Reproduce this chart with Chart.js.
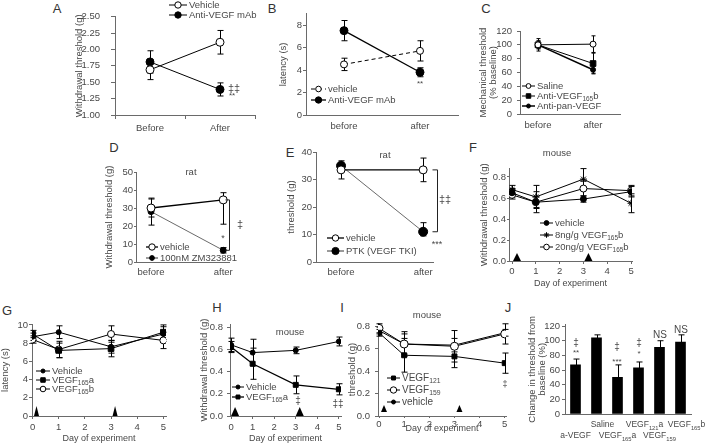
<!DOCTYPE html>
<html>
<head>
<meta charset="utf-8">
<script src="https://cdn.jsdelivr.net/npm/chart.js@4.4.1/dist/chart.umd.min.js"></script>
<style>
body { margin: 0; width: 710px; height: 444px; background: #fff; position: relative; overflow: hidden; font-family: "Liberation Sans", Arial, sans-serif; }
canvas { position: absolute; }
.lt { position: absolute; font-size: 13px; color: #333; transform: translate(-50%, -50%); }
</style>
</head>
<body>
<div class="lt" style="left:57px;top:8px">A</div>
<div class="lt" style="left:272px;top:8px">B</div>
<div class="lt" style="left:486px;top:8px">C</div>
<div class="lt" style="left:114px;top:147px">D</div>
<div class="lt" style="left:290px;top:152px">E</div>
<div class="lt" style="left:473px;top:147px">F</div>
<div class="lt" style="left:7px;top:310px">G</div>
<div class="lt" style="left:217px;top:307px">H</div>
<div class="lt" style="left:342px;top:307px">I</div>
<div class="lt" style="left:508px;top:307px">J</div>
<script>
const FONT = '"Liberation Sans", Arial, sans-serif';
const TXT = '#484848';
const AX = '#6a6a6a';

// A
const aCats = ['Before', 'After'];
const aVehicle = [1.69, 2.11];
const aVehicleErr = [0.15, 0.18];
const aAnti = [1.81, 1.39];
const aAntiErr = [0.17, 0.10];
const aTicks = [1.00, 1.25, 1.50, 1.75, 2.00, 2.25, 2.50];

// B
const bCats = ['before', 'after'];
const bVehicle = [4.5, 5.7];
const bVehicleErr = [0.55, 0.9];
const bAnti = [7.5, 3.8];
const bAntiErr = [0.9, 0.4];
const bTicks = [0, 2, 4, 6, 8];

// C
const cCats = ['before', 'after'];
const cSaline = [100, 101];
const cSalineErr = [6, 12];
const cAnti165b = [100, 73];
const cAnti165bErr = [9, 15];
const cAntiPan = [100, 64];
const cAntiPanErr = [5, 5];
const cTicks = [0, 20, 40, 60, 80, 100, 120];

// D
const dCats = ['before', 'after'];
const dVehicle = [30, 34.5];
const dVehicleErr = [5, [13.5, 4]];
const dZM = [28, 6.5];
const dZMErr = [7.5, 1.5];
const dTicks = [0, 10, 20, 30, 40, 50];

// E
const eCats = ['before', 'after'];
const eVehicle = [33.5, 33.5];
const eVehicleErr = [3.3, 4.3];
const ePTK = [35, 11];
const ePTKErr = [1, [1.5, 3.3]];
const eTicks = [0, 10, 20, 30, 40];

// time course panels
const days = [0, 1, 3, 5];
const dayTicks = [0, 1, 2, 3, 4, 5];
const injectDays = [0, 3];

// F
const fVehicle = [0.65, 0.56, 0.59, 0.66];
const fVehicleErr = [0.04, 0.05, 0.03, 0.05];
const f8ng = [0.68, 0.61, 0.78, 0.55];
const f8ngErr = [0.04, 0.11, 0.10, 0.09];
const f20ng = [0.63, 0.56, 0.69, 0.67];
const f20ngErr = [0.04, 0.10, 0.07, 0.05];
const fTicks = [0, 0.2, 0.4, 0.6, 0.8];

// G
const gVehicle = [8.7, 9.2, 7.6, 9.0];
const gVehicleErr = [0.4, 0.7, 0.7, 0.8];
const g165a = [9.0, 7.2, 7.4, 9.2];
const g165aErr = [0.4, 0.8, 0.9, 0.8];
const g165b = [8.4, 7.3, 9.0, 8.3];
const g165bErr = [0.4, 0.9, 0.9, 0.9];
const gTicks = [0, 2, 4, 6, 8, 10];

// H
const hVehicle = [0.64, 0.57, 0.59, 0.67];
const hVehicleErr = [0.06, 0.12, 0.03, 0.04];
const h165a = [0.62, 0.47, 0.28, 0.24];
const h165aErr = [0.05, 0.14, 0.08, 0.05];
const hTicks = [0, 0.2, 0.4, 0.6, 0.8];

// I
const i121 = [0.74, 0.54, 0.53, 0.47];
const i121Err = [0.03, 0.15, 0.10, 0.09];
const i159 = [0.78, 0.64, 0.62, 0.73];
const i159Err = [0.04, 0.11, 0.14, 0.09];
const iVehicle = [0.76, 0.64, 0.63, 0.74];
const iVehicleErr = [0.03, 0.09, 0.06, 0.03];
const iTicks = [0, 0.2, 0.4, 0.6, 0.8];

// J
const jCats = ['a-VEGF', 'Saline', 'VEGF_{165}a', 'VEGF_{121}a', 'VEGF_{159}', 'VEGF_{165}b'];
const jChange = [67, 104, 50, 63, 91, 98];
const jChangeErr = [8, 4, 17, 8, 9, 10];
const jTicks = [0, 20, 40, 60, 80, 100, 120];

// text with _{sub} parts
function rich(ctx, str, x, y, align, size) {
  const parts = str.split(/_\{([^}]*)\}/);
  const sub = size * 0.68;
  let w = 0;
  parts.forEach((p, i) => { ctx.font = (i % 2 ? sub : size) + 'px ' + FONT; w += ctx.measureText(p).width; });
  let cx = align === 'center' ? x - w / 2 : align === 'right' ? x - w : x;
  ctx.textAlign = 'left';
  ctx.textBaseline = 'middle';
  parts.forEach((p, i) => {
    ctx.font = (i % 2 ? sub : size) + 'px ' + FONT;
    ctx.fillText(p, cx, y + (i % 2 ? size * 0.35 : 0));
    cx += ctx.measureText(p).width;
  });
}

const extrasPlugin = {
  id: 'extras',
  beforeDatasetsDraw(chart) {
    const o = chart.canvas._extras, ctx = chart.ctx, ys = chart.scales.y;
    ctx.save();
    ctx.strokeStyle = '#000';
    ctx.lineWidth = 1;
    chart.data.datasets.forEach((ds, i) => {
      if (!ds.errs) return;
      chart.getDatasetMeta(i).data.forEach((el, j) => {
        const d = ds.data[j];
        const v = typeof d === 'object' ? d.y : d;
        const e = ds.errs[j];
        const lo = Array.isArray(e) ? e[0] : e;
        const hi = Array.isArray(e) ? e[1] : e;
        const x = Math.round(el.x) + 0.5;
        const yt = ys.getPixelForValue(v + hi), yb = ys.getPixelForValue(v - lo);
        const c = o.cap || 3;
        ctx.beginPath();
        ctx.moveTo(x, yt); ctx.lineTo(x, yb);
        ctx.moveTo(x - c, yt); ctx.lineTo(x + c, yt);
        ctx.moveTo(x - c, yb); ctx.lineTo(x + c, yb);
        ctx.stroke();
      });
    });
    ctx.restore();
  },
  afterDatasetsDraw(chart) {
    const o = chart.canvas._extras, ctx = chart.ctx;
    const xs = chart.scales.x, ys = chart.scales.y;
    const bx = o.box[0], by = o.box[1];
    ctx.save();
    // injection markers
    if (o.tri) {
      ctx.fillStyle = '#000';
      injectDays.forEach(d => {
        const px = xs.getPixelForValue(d) + o.tri.dx;
        const base = ys.bottom - (o.tri.lift || 0);
        ctx.beginPath();
        ctx.moveTo(px - o.tri.w / 2, base);
        ctx.lineTo(px + o.tri.w / 2, base);
        ctx.lineTo(px, base - o.tri.h);
        ctx.closePath();
        ctx.fill();
      });
    }
    // significance brackets
    (o.brackets || []).forEach(b => {
      const x = b.x - bx + 0.5, y1 = ys.getPixelForValue(b.v1), y2 = ys.getPixelForValue(b.v2);
      ctx.strokeStyle = '#222';
      ctx.lineWidth = 1;
      ctx.beginPath();
      ctx.moveTo(x - b.arm, y1); ctx.lineTo(x, y1); ctx.lineTo(x, y2); ctx.lineTo(x - b.arm, y2);
      ctx.stroke();
    });
    // legend
    if (o.legend) {
      const L = o.legend;
      L.labels.forEach((t, i) => {
        const ds = chart.data.datasets[i];
        const x = L.x - bx, y = L.y + i * L.dy - by;
        ctx.strokeStyle = '#000';
        ctx.lineWidth = ds.borderWidth;
        ctx.setLineDash(ds.borderDash || []);
        ctx.beginPath(); ctx.moveTo(x, y); ctx.lineTo(x + L.len, y); ctx.stroke();
        ctx.setLineDash([]);
        ctx.fillStyle = ds.pointBackgroundColor;
        ctx.lineWidth = ds.pointBorderWidth;
        Chart.helpers.drawPoint(ctx, {pointStyle: ds.pointStyle, radius: ds.pointRadius * 0.8, rotation: 0, borderWidth: ds.pointBorderWidth}, x + L.len / 2, y);
        ctx.fillStyle = TXT;
        rich(ctx, t, x + L.len + 2, y, 'left', L.size || 9.5);
      });
    }
    // category labels under bars, in two staggered rows
    if (o.barLabels) {
      ctx.fillStyle = TXT;
      o.barLabels.cats.forEach((t, i) => {
        const top = i % 2 === 1;
        const y = o.barLabels.rows[top ? 0 : 1] - by;
        rich(ctx, t, xs.getPixelForValue(i) + (top ? o.barLabels.dx : 0), y, 'center', o.barLabels.size);
      });
    }
    // free texts
    (o.texts || []).forEach(t => {
      ctx.fillStyle = TXT;
      rich(ctx, t.t, t.x - bx, t.y - by, t.align || 'center', t.size || 9.5);
    });
    ctx.restore();
  }
};

function pts(vals) {
  return vals.map((v, i) => ({x: days[i], y: v}));
}
function series(data, errs, style) {
  return Object.assign({
    data: data, errs: errs,
    borderColor: '#000', borderWidth: 1, fill: false, tension: 0,
    pointBorderColor: '#000', pointBorderWidth: 1, pointBackgroundColor: '#000',
    pointStyle: 'circle', pointRadius: 3.5
  }, style);
}

function yAxis(min, max, ticks, dec, tl, pad, title) {
  return {
    min: min, max: max,
    afterBuildTicks: s => { s.ticks = ticks.map(v => ({value: v})); },
    ticks: {autoSkip: false, padding: pad, color: TXT, font: {family: FONT, size: 9.5}, callback: v => v.toFixed(dec)},
    grid: {drawOnChartArea: false, tickLength: tl, color: AX},
    border: {color: AX},
    title: {display: true, text: title, color: TXT, padding: 0, font: {family: FONT, size: 9.5, lineHeight: 1.1}}
  };
}
function xCat(tl, pad, marks) {
  return {
    type: 'category', offset: true,
    ticks: {autoSkip: false, maxRotation: 0, padding: pad, color: TXT, font: {family: FONT, size: 9.5}},
    grid: {offset: true, drawOnChartArea: false, tickLength: tl, color: marks ? AX : 'rgba(0,0,0,0)'},
    border: {color: AX}
  };
}
function xLin(min, max, ticks, labels, tl, pad, marks, title) {
  return {
    type: 'linear', min: min, max: max,
    afterBuildTicks: s => { s.ticks = ticks.map(v => ({value: v})); },
    ticks: {autoSkip: false, maxRotation: 0, padding: pad, color: TXT, font: {family: FONT, size: 9.5},
      callback: v => labels ? labels[v] : String(v)},
    grid: {drawOnChartArea: false, tickLength: tl, color: marks ? AX : 'rgba(0,0,0,0)'},
    border: {color: AX},
    title: title ? {display: true, text: title, color: TXT, padding: 0, font: {family: FONT, size: 9}} : {display: false}
  };
}

function panel(box, area, scales, datasets, extras, type, labels) {
  const cl = box[0], ct = box[1], cw = box[2], ch = box[3];
  const cv = document.createElement('canvas');
  cv.width = cw; cv.height = ch;
  cv.style.left = cl + 'px'; cv.style.top = ct + 'px';
  document.body.appendChild(cv);
  scales.y.afterFit = s => { s.width = area[0] - cl; };
  scales.x.afterFit = s => { s.height = ct + ch - area[3]; };
  extras.box = box;
  cv._extras = extras;
  new Chart(cv, {
    type: type || 'line',
    data: {labels: labels, datasets: datasets},
    options: {
      responsive: false, animation: false, events: [],
      layout: {autoPadding: false, padding: {left: 0, top: area[1] - ct, right: cl + cw - area[2], bottom: 0}},
      scales: scales,
      plugins: {legend: {display: false}, tooltip: {enabled: false}}
    },
    plugins: [extrasPlugin]
  });
}

const OPEN = '#fff';

// A
panel([74, 0, 190, 140], [115, 9, 255, 115],
  {x: xCat(4, 4, true), y: yAxis(1, 2.5, aTicks, 2, 4, 11, 'Withdrawal threshold (g)')},
  [series(aVehicle, aVehicleErr, {pointBackgroundColor: OPEN, pointRadius: 4}),
   series(aAnti, aAntiErr, {pointRadius: 4})],
  {legend: {x: 169, y: 5, dy: 10, len: 18, labels: ['Vehicle', 'Anti-VEGF mAb']},
   texts: [{t: '‡‡', x: 228, y: 89, size: 11, align: 'left'}, {t: '**', x: 229, y: 96, size: 8, align: 'left'}]},
  'line', aCats);

// B
panel([278, 0, 184, 140], [306, 13.75, 458, 115],
  {x: xCat(3, 3, false), y: yAxis(0, 9, bTicks, 0, 3, 1, 'latency (s)')},
  [series(bVehicle, bVehicleErr, {pointBackgroundColor: OPEN, pointRadius: 3.5, borderDash: [4, 3]}),
   series(bAnti, bAntiErr, {pointRadius: 4, borderWidth: 1.3})],
  {legend: {x: 311, y: 89, dy: 11, len: 15, labels: ['vehicle', 'Anti-VEGF mAb']},
   texts: [{t: '**', x: 420, y: 84, size: 8}]},
  'line', bCats);

// C
panel([478, 0, 150, 140], [520, 31, 620, 114],
  {x: xLin(-0.327, 1.49, [0, 1], cCats, 3, 2.5, false), y: yAxis(0, 120, cTicks, 0, 3, 5, ['Mechanical threshold', '(% baseline)'])},
  [series([{x: 0, y: cSaline[0]}, {x: 1, y: cSaline[1]}], cSalineErr, {pointBackgroundColor: OPEN, pointRadius: 3}),
   series([{x: 0, y: cAnti165b[0]}, {x: 1, y: cAnti165b[1]}], cAnti165bErr, {pointStyle: 'rect', pointRadius: 4}),
   series([{x: 0, y: cAntiPan[0]}, {x: 1, y: cAntiPan[1]}], cAntiPanErr, {pointRadius: 2.5, borderWidth: 1.5})],
  {cap: 2, legend: {x: 522, y: 86, dy: 10, len: 13, labels: ['Saline', 'Anti-VEGF_{165}b', 'Anti-pan-VEGF']}});

// D
panel([104, 140, 145, 150], [136, 172, 229, 262],
  {x: xLin(-0.208, 1.08, [0, 1], dCats, 3, 2, false), y: yAxis(0, 50, dTicks, 0, 2, 1, 'Withdrawal threshold (g)')},
  [series([{x: 0, y: dVehicle[0]}, {x: 1, y: dVehicle[1]}], dVehicleErr, {pointBackgroundColor: OPEN, pointRadius: 4, borderWidth: 1.3}),
   series([{x: 0, y: dZM[0]}, {x: 1, y: dZM[1]}], dZMErr, {pointRadius: 3, borderWidth: 0.8, borderColor: '#444'})],
  {legend: {x: 146, y: 247, dy: 11, len: 12, labels: ['vehicle', '100nM ZM323881']},
   brackets: [{x: 229, v1: dVehicle[1], v2: dZM[1], arm: 4}],
   texts: [{t: 'rat', x: 191, y: 172}, {t: '*', x: 223, y: 239, size: 9}, {t: '‡', x: 240, y: 225, size: 11}]});

// E
panel([286, 140, 170, 150], [316, 152, 433, 262],
  {x: xLin(-0.305, 1.12, [0, 1], eCats, 3, 2, false), y: yAxis(0, 40, eTicks, 0, 3, 1, 'threshold (g)')},
  [series([{x: 0, y: eVehicle[0]}, {x: 1, y: eVehicle[1]}], eVehicleErr, {pointBackgroundColor: OPEN, pointRadius: 4, borderWidth: 1.3}),
   series([{x: 0, y: ePTK[0]}, {x: 1, y: ePTK[1]}], ePTKErr, {pointRadius: 4.5, borderWidth: 0.8, borderColor: '#444'})],
  {legend: {x: 327, y: 238, dy: 13, len: 17, labels: ['vehicle', 'PTK (VEGF TKI)']},
   brackets: [{x: 437, v1: eVehicle[1], v2: ePTK[1], arm: 5}],
   texts: [{t: 'rat', x: 385, y: 155}, {t: '‡‡', x: 439, y: 200, size: 11, align: 'left'}, {t: '***', x: 437, y: 245, size: 9}]});

// F
panel([479, 140, 160, 149], [509, 168.6, 632, 261],
  {x: xLin(-0.126, 5.04, dayTicks, null, 3, 2, true, 'Day of experiment'), y: yAxis(0, 0.88, fTicks, 1, 2, 1, 'Withdrawal threshold (g)')},
  [series(pts(fVehicle), fVehicleErr, {pointRadius: 3}),
   series(pts(f8ng), f8ngErr, {pointStyle: 'star', pointRadius: 3.5}),
   series(pts(f20ng), f20ngErr, {pointBackgroundColor: OPEN, pointRadius: 3.5})],
  {tri: {dx: 5, w: 8, h: 8}, legend: {x: 540, y: 223, dy: 12, len: 13, labels: ['vehicle', '8ng/g VEGF_{165}b', '20ng/g VEGF_{165}b']},
   texts: [{t: 'mouse', x: 557, y: 153}]});

// G
panel([0, 290, 175, 154], [32, 324, 166, 416],
  {x: xLin(-0.02, 5.1, dayTicks, null, 3, 3, true, 'Day of experiment'), y: yAxis(0, 10.1, gTicks, 0, 3, 1, 'latency (s)')},
  [series(pts(gVehicle), gVehicleErr, {pointRadius: 2.5}),
   series(pts(g165a), g165aErr, {pointStyle: 'rect', pointRadius: 4}),
   series(pts(g165b), g165bErr, {pointBackgroundColor: OPEN, pointRadius: 3.5})],
  {tri: {dx: 4, w: 5, h: 10}, legend: {x: 36, y: 371, dy: 9, len: 14, labels: ['Vehicle', 'VEGF_{165}a', 'VEGF_{165}b']}});

// H
panel([199, 290, 150, 154], [230, 324, 341, 416],
  {x: xLin(-0.05, 5.1, dayTicks, null, 3, 3, true, 'Day of experiment'), y: yAxis(0, 0.827, hTicks, 1, 3, 4, 'Withdrawal threshold (g)')},
  [series(pts(hVehicle), hVehicleErr, {pointRadius: 2.5}),
   series(pts(h165a), h165aErr, {pointStyle: 'rect', pointRadius: 3.5, borderWidth: 1.3})],
  {tri: {dx: 4, w: 8, h: 9}, legend: {x: 232, y: 387, dy: 10, len: 12, labels: ['Vehicle', 'VEGF_{165}a']},
   texts: [{t: 'mouse', x: 290, y: 332}, {t: '‡', x: 298, y: 401, size: 10}, {t: '‡‡', x: 338, y: 404, size: 10}]});

// I
panel([347, 290, 165, 144], [378, 323, 506, 416],
  {x: xLin(-0.04, 5.05, dayTicks, null, 2, 1, true, 'Day of experiment'), y: yAxis(0, 0.827, iTicks, 1, 3, 5, 'threshold (g)')},
  [series(pts(i121), i121Err, {pointStyle: 'rect', pointRadius: 3.5}),
   series(pts(i159), i159Err, {pointBackgroundColor: OPEN, pointRadius: 4}),
   series(pts(iVehicle), iVehicleErr, {pointRadius: 2.5})],
  {tri: {dx: 5, w: 6, h: 7, lift: 4}, legend: {x: 387, y: 378, dy: 12, len: 13, size: 10, labels: ['VEGF_{121}', 'VEGF_{159}', 'vehicle']},
   texts: [{t: 'mouse', x: 427, y: 315}, {t: '‡', x: 505, y: 385, size: 9}]});

// J
const jx = xCat(3, 2, false);
jx.ticks.display = false;
panel([527, 290, 183, 154], [565, 324.6, 691, 414],
  {x: jx, y: yAxis(0, 122, jTicks, 0, 3, 2, ['Change in threshold from', 'baseline (%)'])},
  [{data: jChange, errs: jChangeErr, backgroundColor: '#000', barThickness: 10}],
  {barLabels: {cats: jCats, rows: [425, 436], size: 8.5, dx: 6},
   texts: [{t: '‡', x: 576, y: 343, size: 10}, {t: '**', x: 576, y: 353, size: 8},
     {t: '‡', x: 617, y: 347, size: 10}, {t: '***', x: 617, y: 362, size: 8},
     {t: '‡', x: 639, y: 343, size: 10}, {t: '*', x: 639, y: 354, size: 8},
     {t: 'NS', x: 660, y: 335, size: 10}, {t: 'NS', x: 681, y: 330, size: 10}]},
  'bar', jCats);
</script>
</body>
</html>
